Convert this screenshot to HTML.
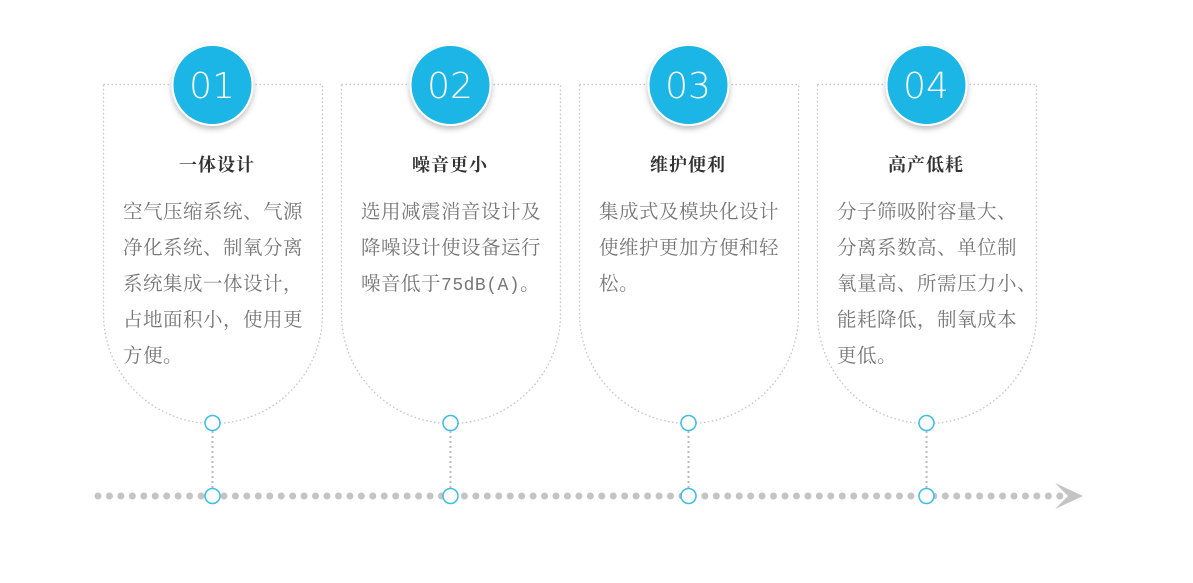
<!DOCTYPE html>
<html><head><meta charset="utf-8"><style>
html,body{margin:0;padding:0;background:#fff;width:1193px;height:583px;overflow:hidden}
svg{display:block}
.t{font-family:"Liberation Serif","Noto Serif CJK SC",serif;font-size:18px;font-weight:bold;fill:#333;text-anchor:middle;letter-spacing:1px}
.b{font-family:"Noto Serif CJK SC",serif;font-size:19.5px;fill:#777;letter-spacing:0.5px}
.m{font-family:"Liberation Mono",monospace;font-size:18px}
.n{font-family:"DejaVu Sans","Liberation Sans",sans-serif;font-size:36px;fill:#fff;text-anchor:middle;font-weight:300}
</style></head><body>
<svg width="1193" height="583" viewBox="0 0 1193 583">
<defs>
<filter id="sh" x="-30%" y="-30%" width="160%" height="160%"><feDropShadow dx="0" dy="3" stdDeviation="3" flood-color="#000" flood-opacity="0.25"/></filter>
<g id="card">
<path d="M0.5 84.5 H219.5 V314 A109.5 109.5 0 0 1 0.5 314 Z" fill="none" stroke="#c4c4c4" stroke-width="1.3" stroke-dasharray="1.5 2.5"/>
<line x1="109.5" y1="431" x2="109.5" y2="488" stroke="#bbb" stroke-width="2" stroke-dasharray="2 3"/>
<circle cx="109.5" cy="85" r="40" fill="#1eb6e6" stroke="#fff" stroke-width="2" filter="url(#sh)"/>
</g>
</defs>
<line x1="98" y1="496" x2="1062" y2="496" stroke="#c4c4c4" stroke-width="7" stroke-linecap="round" stroke-dasharray="0 11.45"/>
<polygon points="1055,483 1083,496 1055,509 1068,496" fill="#c4c4c4"/>
<g transform="translate(103,0)"><use href="#card"/></g>
<g transform="translate(341,0)"><use href="#card"/></g>
<g transform="translate(579,0)"><use href="#card"/></g>
<g transform="translate(817,0)"><use href="#card"/></g>
<g fill="#fff" stroke="#3dbde6" stroke-width="1.5">
<circle cx="212.5" cy="423" r="7.5"/><circle cx="212.5" cy="496" r="7.5"/>
<circle cx="450.5" cy="423" r="7.5"/><circle cx="450.5" cy="496" r="7.5"/>
<circle cx="688.5" cy="423" r="7.5"/><circle cx="688.5" cy="496" r="7.5"/>
<circle cx="926.5" cy="423" r="7.5"/><circle cx="926.5" cy="496" r="7.5"/>
</g>
<text class="n" x="212" y="98">01</text>
<text class="n" x="450" y="98">02</text>
<text class="n" x="688" y="98">03</text>
<text class="n" x="926" y="98">04</text>
<text class="t" x="217" y="171">一体设计</text>
<text class="t" x="450" y="171">噪音更小</text>
<text class="t" x="688" y="171">维护便利</text>
<text class="t" x="926" y="171">高产低耗</text>
<g class="b">
<text x="123" y="218">空气压缩系统、气源</text>
<text x="123" y="254">净化系统、制氧分离</text>
<text x="123" y="290">系统集成一体设计，</text>
<text x="123" y="326">占地面积小，使用更</text>
<text x="123" y="362">方便。</text>
<text x="361" y="218">选用减震消音设计及</text>
<text x="361" y="254">降噪设计使设备运行</text>
<text x="361" y="290">噪音低于<tspan class="m">75dB(A)</tspan>。</text>
<text x="599" y="218">集成式及模块化设计</text>
<text x="599" y="254">使维护更加方便和轻</text>
<text x="599" y="290">松。</text>
<text x="837" y="218">分子筛吸附容量大、</text>
<text x="837" y="254">分离系数高、单位制</text>
<text x="837" y="290">氧量高、所需压力小、</text>
<text x="837" y="326">能耗降低，制氧成本</text>
<text x="837" y="362">更低。</text>
</g>
</svg>
</body></html>
